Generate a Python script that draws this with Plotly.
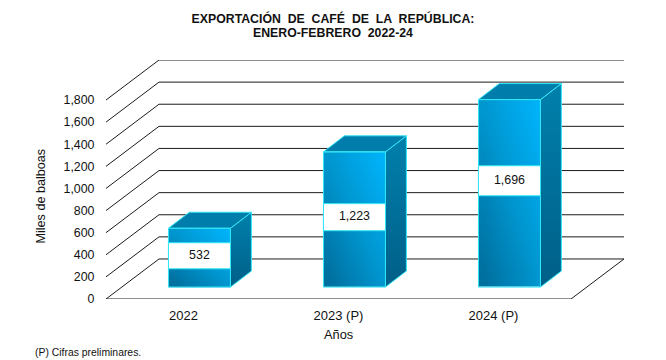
import plotly.graph_objects as go

categories = ["2022", "2023 (P)", "2024 (P)"]
values = [532, 1223, 1696]
value_labels = ["532", "1,223", "1,696"]
y_ticks = [0, 200, 400, 600, 800, 1000, 1200, 1400, 1600, 1800]
y_tick_labels = ["0", "200", "400", "600", "800", "1,000", "1,200", "1,400", "1,600", "1,800"]

# label box: centre as a share of the bar's height, and its height in value units
box_centre_share = [0.532, 0.517, 0.567]
box_height = [236, 245, 272]

# pseudo-3D geometry, in axis units
X_MIN, X_MAX = -0.5, 2.842
Y_MAX = 2162
WALL_DX, WALL_DY = 0.342, 362      # floor depth
BAR_DX, BAR_DY = 0.103, 108        # bar sits this far back on the floor
DEPTH_DX, DEPTH_DY = 0.135, 145    # bar depth
BAR_W = 0.40

FONT = "Liberation Sans, Arial, sans-serif"
INK = "#111111"
GRID = "#1c1c1c"
EDGE = "#2fe6f5"
FRONT_SCALE = [[0, "#006a98"], [0.5, "#0096cf"], [1, "#00b6ff"]]

fig = go.Figure()

# floor and wall grid lines on the main axes
gx, gy = [], []
for t in y_ticks:
    if t == 0:
        gx += [-0.5, -0.5 + WALL_DX, 2.5 + WALL_DX, 2.5, -0.5, None]
        gy += [0, WALL_DY, WALL_DY, 0, 0, None]
    else:
        gx += [-0.5, -0.5 + WALL_DX, 2.5 + WALL_DX, None]
        gy += [t, t + WALL_DY, t + WALL_DY, None]
fig.add_trace(go.Scatter(x=gx, y=gy, mode="lines", line=dict(color=GRID, width=1),
                         hoverinfo="skip", showlegend=False))

# bars on an overlaid axis pair so the gradient images cover the grid
N = 8
for i, v in enumerate(values):
    x0 = i - BAR_W / 2 + BAR_DX
    x1 = i + BAR_W / 2 + BAR_DX
    y0 = BAR_DY
    y1 = BAR_DY + v

    xs = [x0 + (x1 - x0) * k / N for k in range(N + 1)]
    ys = [y0 + (y1 - y0) * k / N for k in range(N + 1)]
    z = [[(c + 0.5 + r + 0.5) / (2 * N) for c in range(N)] for r in range(N)]
    fig.add_trace(go.Heatmap(x=xs, y=ys, z=z, zmin=0, zmax=1, zsmooth="best",
                             colorscale=FRONT_SCALE, showscale=False, hoverinfo="skip",
                             xaxis="x2", yaxis="y2"))
    # side face
    fig.add_trace(go.Scatter(
        x=[x1, x1 + DEPTH_DX, x1 + DEPTH_DX, x1, x1],
        y=[y0, y0 + DEPTH_DY, y1 + DEPTH_DY, y1, y0],
        mode="lines", fill="toself", line=dict(color=EDGE, width=1),
        fillgradient=dict(type="vertical",
                          colorscale=[[0, "#005f88"], [1, "#0080ac"]]),
        hoverinfo="skip", showlegend=False, xaxis="x2", yaxis="y2"))
    # top face
    fig.add_trace(go.Scatter(
        x=[x0, x0 + DEPTH_DX, x1 + DEPTH_DX, x1, x0],
        y=[y1, y1 + DEPTH_DY, y1 + DEPTH_DY, y1, y1],
        mode="lines", fill="toself", line=dict(color=EDGE, width=1),
        fillcolor="#007dab", hoverinfo="skip", showlegend=False, xaxis="x2", yaxis="y2"))
    # front outline
    fig.add_trace(go.Scatter(
        x=[x0, x1, x1, x0, x0], y=[y0, y0, y1, y1, y0],
        mode="lines", line=dict(color=EDGE, width=1),
        hoverinfo="skip", showlegend=False, xaxis="x2", yaxis="y2"))
    # white value box
    yc = y0 + v * box_centre_share[i]
    bh = box_height[i] / 2
    fig.add_trace(go.Scatter(
        x=[x0, x1, x1, x0, x0], y=[yc - bh, yc - bh, yc + bh, yc + bh, yc - bh],
        mode="lines", fill="toself", fillcolor="white", line=dict(color=EDGE, width=1),
        hoverinfo="skip", showlegend=False, xaxis="x2", yaxis="y2"))
    fig.add_trace(go.Scatter(
        x=[(x0 + x1) / 2], y=[yc], mode="text", text=[value_labels[i]],
        textposition="middle center", textfont=dict(family=FONT, size=12.4, color=INK),
        hoverinfo="skip", showlegend=False, xaxis="x2", yaxis="y2"))

fig.update_layout(
    width=666, height=360,
    margin=dict(l=106, r=42, t=60, b=61, pad=0),
    paper_bgcolor="white", plot_bgcolor="white",
    showlegend=False,
    font=dict(family=FONT, size=12, color=INK),
    title=dict(text="<b>EXPORTACIÓN  DE  CAFÉ  DE  LA  REPÚBLICA:</b>",
               x=0.5, xanchor="center", xref="container",
               y=0.947, yref="container", yanchor="middle",
               font=dict(family=FONT, size=12.3, color=INK)),
    xaxis=dict(range=[X_MIN, X_MAX], tickmode="array", tickvals=[0, 1, 2], ticktext=categories,
               showgrid=False, zeroline=False, showline=False,
               ticks="outside", ticklen=4, tickcolor="rgba(0,0,0,0)",
               tickfont=dict(family=FONT, size=13, color=INK)),
    yaxis=dict(range=[0, Y_MAX], tickmode="array", tickvals=y_ticks, ticktext=y_tick_labels,
               showgrid=False, zeroline=False, showline=False,
               ticks="outside", ticklen=8, tickcolor="rgba(0,0,0,0)",
               tickfont=dict(family=FONT, size=12.4, color=INK)),
    xaxis2=dict(range=[X_MIN, X_MAX], overlaying="x", visible=False),
    yaxis2=dict(range=[0, Y_MAX], overlaying="y", visible=False),
    annotations=[
        dict(text="<b>ENERO-FEBRERO  2022-24</b>", xref="paper", x=(333 - 106) / 518,
             yref="paper", y=1.113, yanchor="middle", showarrow=False,
             font=dict(family=FONT, size=12.3, color=INK)),
        dict(text="Años", xref="x", x=1, yref="paper", y=-0.108, yanchor="top", showarrow=False,
             font=dict(family=FONT, size=12.8, color=INK)),
        dict(text="Miles de balboas", xref="paper", x=-0.125, xanchor="center",
             yref="paper", y=0.43, yanchor="middle", textangle=-90, showarrow=False,
             font=dict(family=FONT, size=12.6, color=INK)),
        dict(text="(P) Cifras preliminares.", xref="paper", x=-0.14, xanchor="left",
             yref="paper", y=-0.192, yanchor="top", showarrow=False,
             font=dict(family=FONT, size=10.4, color=INK)),
    ],
)

fig.write_html("out.html", config=dict(displayModeBar=False),
               post_script="document.body.style.margin='0';")
